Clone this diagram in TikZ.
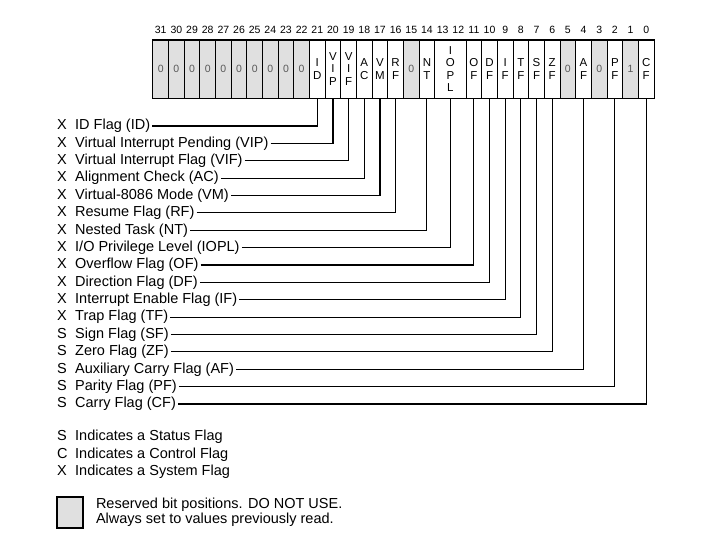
\documentclass[tikz,border=0pt]{standalone}
\usepackage{fontspec}
\setmainfont{Liberation Sans}
\usepackage{tikz}
\usetikzlibrary{positioning}
\definecolor{rsvgray}{HTML}{E0E0E0}
\definecolor{zerotext}{gray}{0.35}
\tikzset{
  bitnum/.style    = {font=\fontsize{10.5}{12}\selectfont, inner sep=0pt},
  bitcell/.style   = {draw=black, line width=0.8pt, minimum height=58pt,
                      inner sep=0pt, align=center,
                      font=\fontsize{11.5}{12.5}\selectfont},
  rsvcell/.style   = {bitcell, fill=rsvgray, text=zerotext,
                      font=\fontsize{10.5}{12}\selectfont},
  regframe/.style  = {draw=black, line width=1.6pt},
  flagkind/.style  = {font=\fontsize{14.5}{17}\selectfont, inner sep=0pt,
                      text height=10.5pt, text depth=3pt, anchor=west},
  flaglabel/.style = {flagkind, inner sep=2pt},
  keynote/.style   = {font=\fontsize{14.5}{15}\selectfont, inner sep=2pt,
                      align=left},
  flagwire/.style  = {draw=black, line width=1.1pt},
  rsvkey/.style    = {draw=black, line width=1.6pt, fill=rsvgray,
                      minimum width=26pt, minimum height=31pt, inner sep=0pt},
}

\begin{document}
\begin{tikzpicture}[x=1pt, y=-1pt]
  \useasboundingbox (0,0) rectangle (720,540);
  % bit numbers above the register
  \foreach \b in {0,...,31}
    \node[bitnum] (n\b) at ({654-(\b+0.5)*15.66},30) {\b};
  % reserved bits
  \foreach \b/\v in {31/0,30/0,29/0,28/0,27/0,26/0,25/0,24/0,23/0,22/0,
                     15/0,5/0,3/0,1/1}
    \node[rsvcell, minimum width=15.66pt] (c\b) at ({654-(\b+0.5)*15.66},69) {\v};
  % flag fields
  \foreach \fl/\hi/\lo/\txt in {ID/21/21/{I\\D}, VIP/20/20/{V\\I\\P},
      VIF/19/19/{V\\I\\F}, AC/18/18/{A\\C}, VM/17/17/{V\\M},
      RF/16/16/{R\\F}, NT/14/14/{N\\T}, IOPL/13/12/{I\\O\\P\\L},
      OF/11/11/{O\\F}, DF/10/10/{D\\F}, IF/9/9/{I\\F}, TF/8/8/{T\\F},
      SF/7/7/{S\\F}, ZF/6/6/{Z\\F}, AF/4/4/{A\\F}, PF/2/2/{P\\F},
      CF/0/0/{C\\F}}
  {\pgfmathsetmacro\cx{654-(\hi+\lo+1)*7.83}
   \pgfmathsetmacro\cw{(\hi-\lo+1)*15.66}
   \node[bitcell, minimum width=\cw pt] (c\fl) at (\cx,69) {\txt};}
  \draw[regframe] (c31.north west) rectangle (cCF.south east);
  % flag names and their wires
  \foreach \k/\kind/\fl/\txt in {0/X/ID/{ID Flag (ID)},
      1/X/VIP/{Virtual Interrupt Pending (VIP)},
      2/X/VIF/{Virtual Interrupt Flag (VIF)},
      3/X/AC/{Alignment Check (AC)},
      4/X/VM/{Virtual-8086 Mode (VM)},
      5/X/RF/{Resume Flag (RF)},
      6/X/NT/{Nested Task (NT)},
      7/X/IOPL/{I/O Privilege Level (IOPL)},
      8/X/OF/{Overflow Flag (OF)},
      9/X/DF/{Direction Flag (DF)},
      10/X/IF/{Interrupt Enable Flag (IF)},
      11/X/TF/{Trap Flag (TF)},
      12/S/SF/{Sign Flag (SF)},
      13/S/ZF/{Zero Flag (ZF)},
      14/S/AF/{Auxiliary Carry Flag (AF)},
      15/S/PF/{Parity Flag (PF)},
      16/S/CF/{Carry Flag (CF)}}
  {\node[flagkind] (k\fl) at (57,{126+17.375*\k}) {\kind};
   \node[flaglabel] (l\fl) at (73,{126+17.375*\k}) {\txt};
   \draw[flagwire] (l\fl.east) -| (c\fl.south);}
  % legend
  \node[flagkind] (kS) at (57,437) {S};
  \node[flaglabel] (lS) at (73,437) {Indicates a Status Flag};
  \node[flagkind] (kC) at (57,455) {C};
  \node[flaglabel] (lC) at (73,455) {Indicates a Control Flag};
  \node[flagkind] (kX) at (57,472) {X};
  \node[flaglabel] (lX) at (73,472) {Indicates a System Flag};
  \node[rsvkey] (key) at (70,512.5) {};
  \node[keynote, right=10pt of key] (keytext)
    {Reserved bit positions. DO NOT USE.\\Always set to values previously read.};
\end{tikzpicture}
\end{document}
